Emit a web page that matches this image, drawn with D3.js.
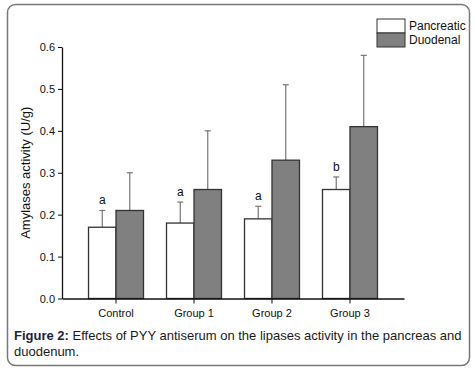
<!DOCTYPE html>
<html>
<head>
<meta charset="utf-8">
<script src="https://cdn.jsdelivr.net/npm/d3@7"></script>
<style>
  body { margin: 0; background: #fff; }
  svg text { font-family: "Liberation Sans", Arial, sans-serif; }
</style>
</head>
<body>
<div id="chart"></div>
<script>
// data
var groups = ["Control", "Group 1", "Group 2", "Group 3"];
var series = ["Pancreatic", "Duodenal"];
var pancreatic = [0.17, 0.18, 0.19, 0.26];
var pancreaticErr = [0.04, 0.05, 0.03, 0.03];
var duodenal = [0.21, 0.26, 0.33, 0.41];
var duodenalErr = [0.09, 0.14, 0.18, 0.17];
var letters = ["a", "a", "a", "b"];
var yTicks = [0.0, 0.1, 0.2, 0.3, 0.4, 0.5, 0.6];

var width = 476, height = 370;
var colors = { "Pancreatic": "#ffffff", "Duodenal": "#808080" };

var svg = d3.select("#chart").append("svg")
    .attr("width", width)
    .attr("height", height);

// rounded frame around the figure
svg.append("rect")
    .attr("x", 7.5).attr("y", 4.5)
    .attr("width", 462).attr("height", 361)
    .attr("rx", 8).attr("ry", 8)
    .attr("fill", "none")
    .attr("stroke", "#777")
    .attr("stroke-width", 1.5);

var x0 = d3.scaleBand()
    .domain(groups)
    .range([62, 404])
    .paddingInner(0.295)
    .paddingOuter(0.34);

var x1 = d3.scaleBand()
    .domain(series)
    .range([0, x0.bandwidth()]);

var y = d3.scaleLinear()
    .domain([0, 0.6])
    .range([298.5, 47]);

var rows = groups.map(function (g, i) {
    return [
        { group: g, key: "Pancreatic", value: pancreatic[i], err: pancreaticErr[i] },
        { group: g, key: "Duodenal", value: duodenal[i], err: duodenalErr[i] }
    ];
});

var gGroups = svg.selectAll(".grp")
    .data(rows)
    .enter().append("g")
    .attr("class", "grp")
    .attr("transform", function (d, i) { return "translate(" + x0(groups[i]) + ",0)"; });

// error bars (drawn first, bars cover the lower half)
gGroups.selectAll(".err")
    .data(function (d) { return d; })
    .enter().append("g")
    .attr("class", "err")
    .each(function (d) {
        var cx = x1(d.key) + x1.bandwidth() / 2;
        var e = d3.select(this);
        e.append("line")
            .attr("x1", cx).attr("x2", cx)
            .attr("y1", y(d.value)).attr("y2", y(d.value + d.err))
            .attr("stroke", "#777").attr("stroke-width", 1.2);
        e.append("line")
            .attr("x1", cx - 3).attr("x2", cx + 3)
            .attr("y1", y(d.value + d.err)).attr("y2", y(d.value + d.err))
            .attr("stroke", "#777").attr("stroke-width", 1.2);
    });

gGroups.selectAll("rect")
    .data(function (d) { return d; })
    .enter().append("rect")
    .attr("x", function (d) { return x1(d.key); })
    .attr("y", function (d) { return y(d.value); })
    .attr("width", x1.bandwidth())
    .attr("height", function (d) { return y(0) - y(d.value); })
    .attr("fill", function (d) { return colors[d.key]; })
    .attr("stroke", "#333")
    .attr("stroke-width", 1.3);

// significance letters over the pancreatic bars
svg.selectAll(".letter")
    .data(groups)
    .enter().append("text")
    .attr("class", "letter")
    .attr("x", function (d) { return x0(d) + x1("Pancreatic") + x1.bandwidth() / 2; })
    .attr("y", function (d, i) { return y(pancreatic[i] + pancreaticErr[i]) - 6; })
    .attr("text-anchor", "middle")
    .attr("font-size", "12px")
    .attr("fill", "#111")
    .text(function (d, i) { return letters[i]; });

// axes
var yAxis = d3.axisLeft(y)
    .tickValues(yTicks)
    .tickFormat(d3.format(".1f"))
    .tickSizeInner(4)
    .tickSizeOuter(0)
    .tickPadding(3);

var gy = svg.append("g")
    .attr("transform", "translate(62,0)")
    .call(yAxis);
gy.select(".domain").attr("stroke", "#111").attr("stroke-width", 1.3);
gy.selectAll(".tick line").attr("stroke", "#111");
gy.selectAll("text").attr("font-size", "11px").attr("fill", "#111")
    .attr("font-family", "Liberation Sans, Arial, sans-serif");

var xAxis = d3.axisBottom(x0)
    .tickSizeInner(5)
    .tickSizeOuter(0)
    .tickPadding(6);

var gx = svg.append("g")
    .attr("transform", "translate(0," + y(0) + ")")
    .call(xAxis);
gx.select(".domain").attr("stroke", "#111").attr("stroke-width", 1.3);
gx.selectAll(".tick line").attr("stroke", "#111");
gx.selectAll("text").attr("font-size", "11px").attr("fill", "#111")
    .attr("font-family", "Liberation Sans, Arial, sans-serif");

svg.append("text")
    .attr("transform", "translate(30," + ((y(0) + y(0.6)) / 2) + ") rotate(-90)")
    .attr("text-anchor", "middle")
    .attr("font-size", "13px")
    .attr("fill", "#111")
    .text("Amylases activity (U/g)");

// legend
var legend = svg.selectAll(".legend")
    .data(series)
    .enter().append("g")
    .attr("class", "legend")
    .attr("transform", function (d, i) { return "translate(377," + (19 + i * 14) + ")"; });

legend.append("rect")
    .attr("width", 28).attr("height", 14)
    .attr("fill", function (d) { return colors[d]; })
    .attr("stroke", "#333")
    .attr("stroke-width", 1);

legend.append("text")
    .attr("x", 32).attr("y", 11)
    .attr("font-size", "12px")
    .attr("fill", "#111")
    .text(function (d) { return d; });

// caption
var cap = svg.append("text")
    .attr("x", 14).attr("y", 340)
    .attr("font-size", "13px")
    .attr("fill", "#1a1a1a");
cap.append("tspan").attr("font-weight", "bold").attr("fill", "#1b1f3b").text("Figure 2:");
cap.append("tspan").text(" Effects of PYY antiserum on the lipases activity in the pancreas and");

svg.append("text")
    .attr("x", 14).attr("y", 356)
    .attr("font-size", "13px")
    .attr("fill", "#1a1a1a")
    .text("duodenum.");
</script>
</body>
</html>
